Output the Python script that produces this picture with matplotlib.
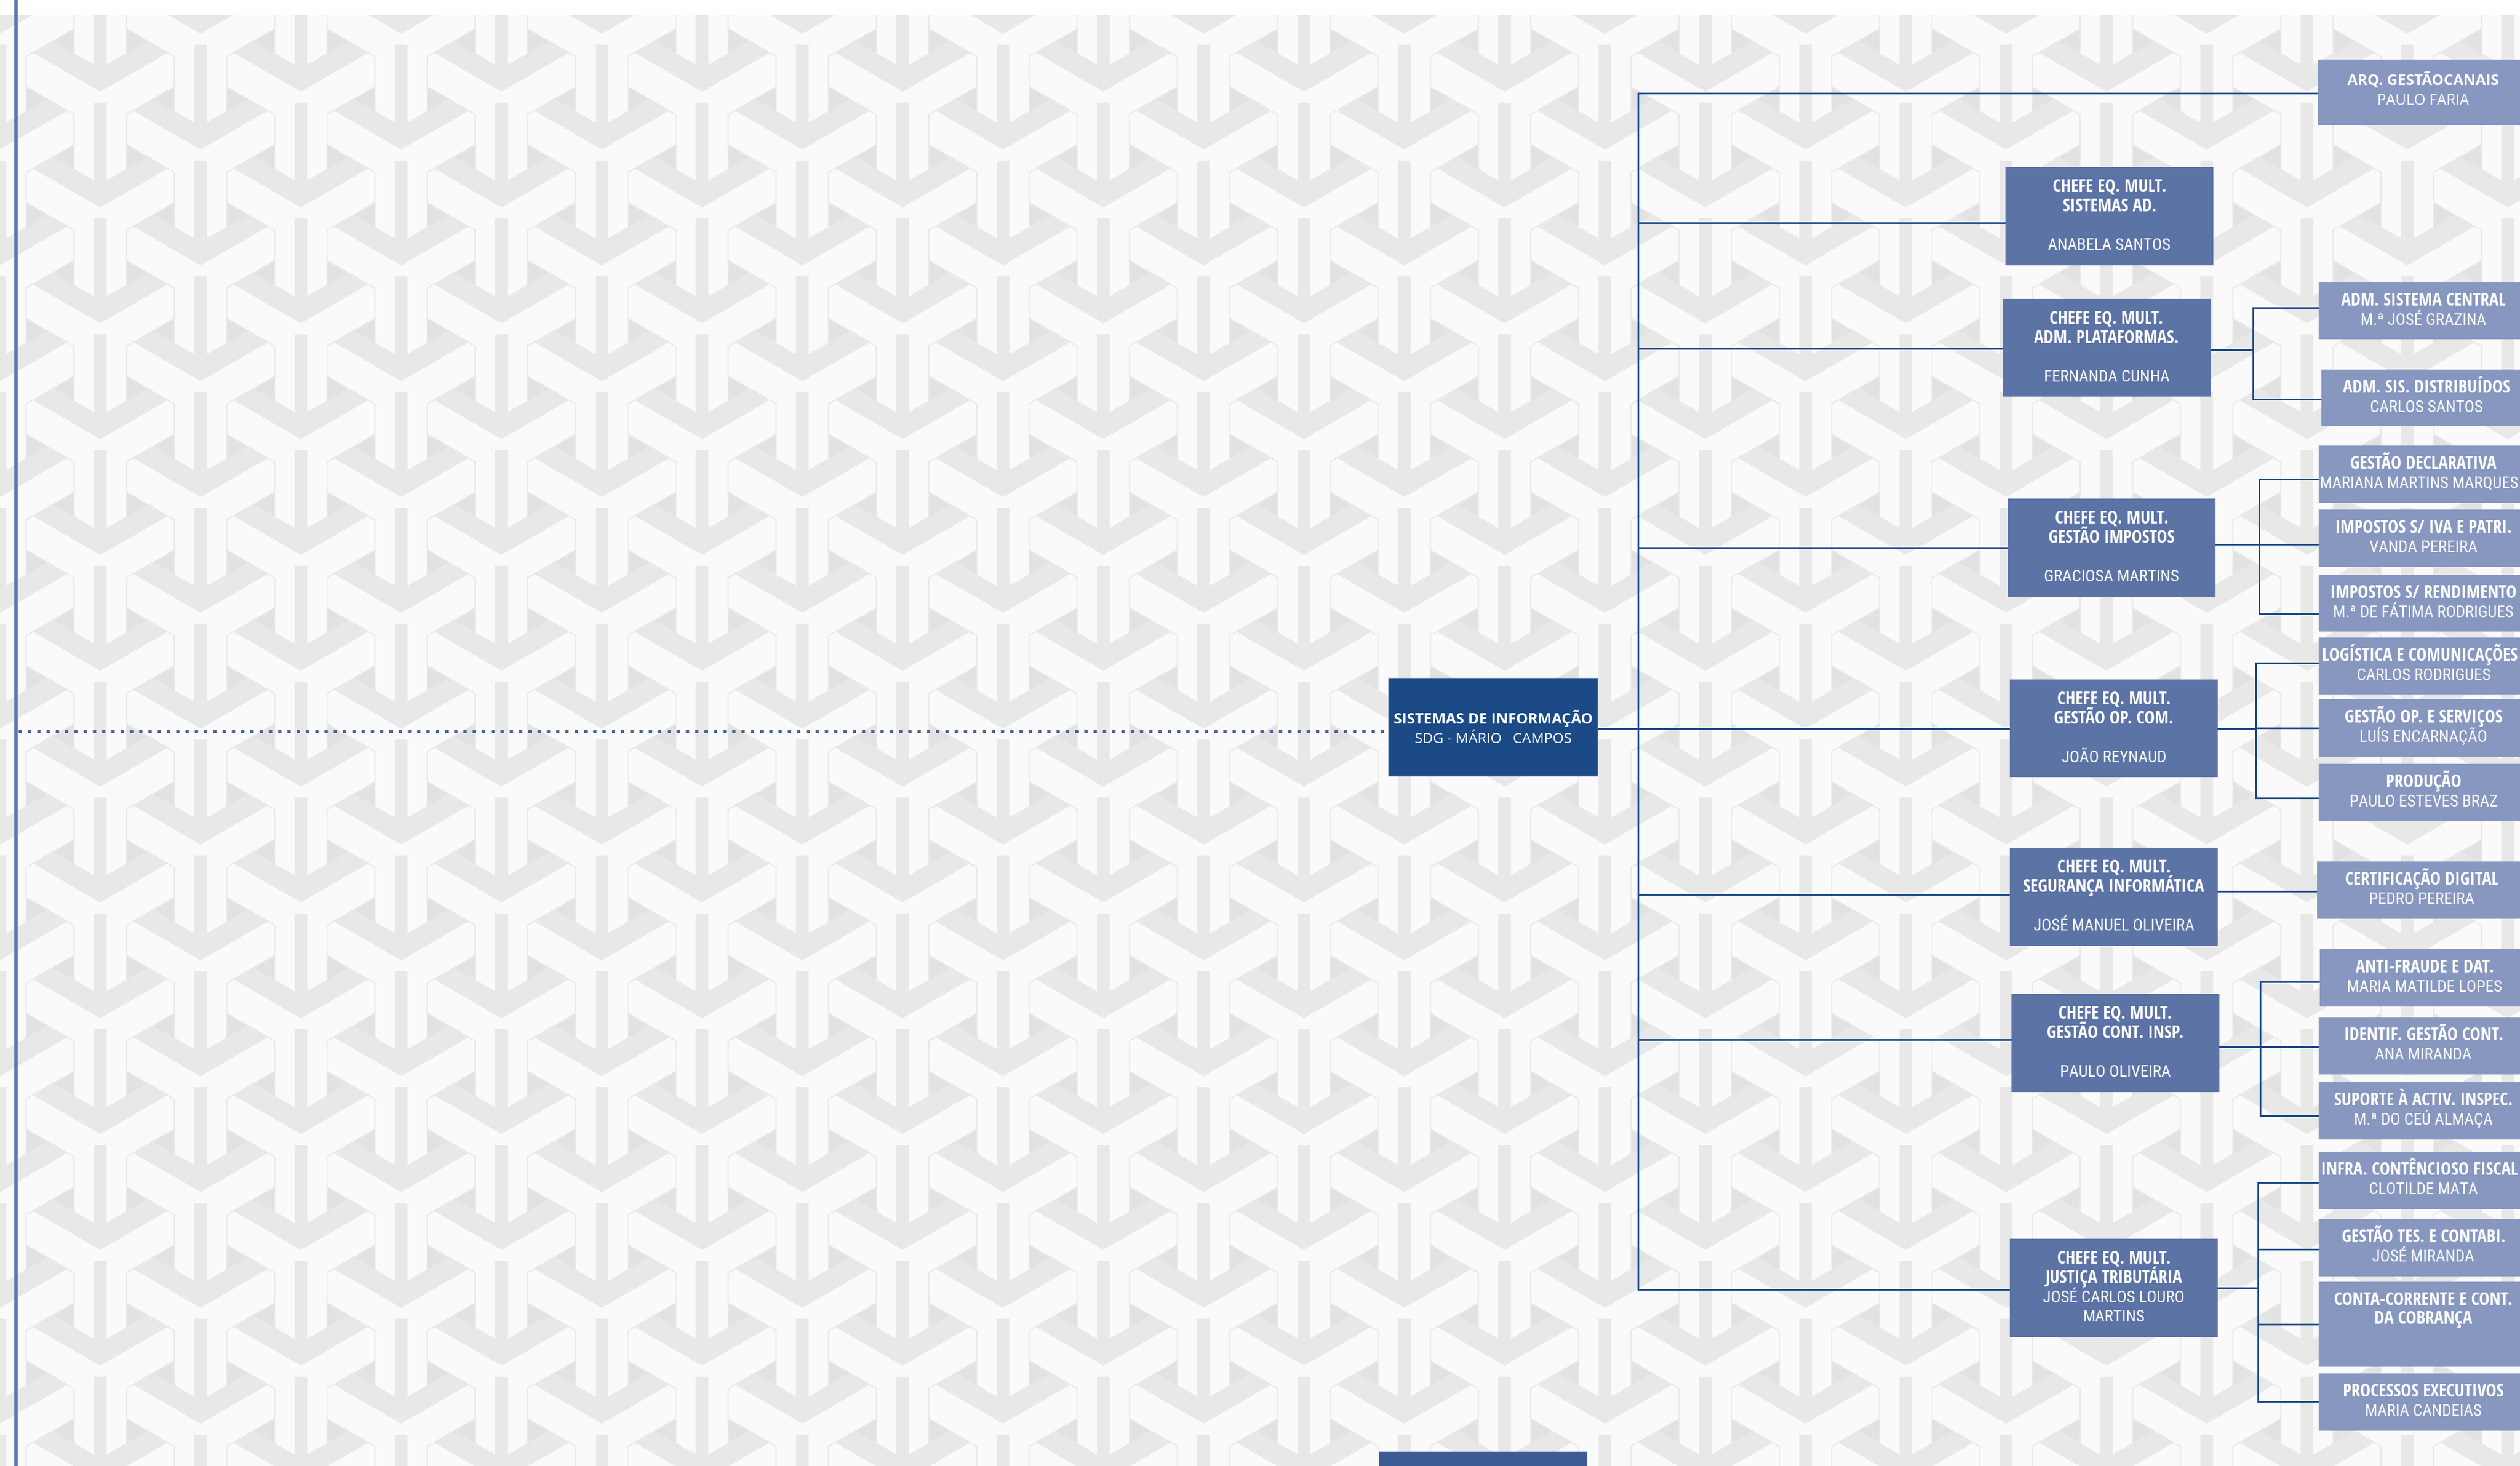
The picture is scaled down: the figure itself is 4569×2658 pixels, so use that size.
import os
import numpy as np
import matplotlib.pyplot as plt
from matplotlib import font_manager as fm
from matplotlib.patches import Rectangle
from matplotlib.collections import PolyCollection

W, H = 4569, 2658
DPI = 300

# ---------------- chart content ----------------
root_title = "SISTEMAS DE INFORMAÇÃO"
root_name = "SDG - MÁRIO   CAMPOS"

chefe_titles = [
    ["CHEFE EQ. MULT.", "SISTEMAS AD."],
    ["CHEFE EQ. MULT.", "ADM. PLATAFORMAS."],
    ["CHEFE EQ. MULT.", "GESTÃO IMPOSTOS"],
    ["CHEFE EQ. MULT.", "GESTÃO OP. COM."],
    ["CHEFE EQ. MULT.", "SEGURANÇA INFORMÁTICA"],
    ["CHEFE EQ. MULT.", "GESTÃO CONT. INSP."],
    ["CHEFE EQ. MULT.", "JUSTIÇA TRIBUTÁRIA"],
]
chefe_names = [
    ["ANABELA SANTOS"],
    ["FERNANDA CUNHA"],
    ["GRACIOSA MARTINS"],
    ["JOÃO REYNAUD"],
    ["JOSÉ MANUEL OLIVEIRA"],
    ["PAULO OLIVEIRA"],
    ["JOSÉ CARLOS LOURO", "MARTINS"],
]

team_titles = [
    ["ARQ. GESTÃOCANAIS"],
    ["ADM. SISTEMA CENTRAL"],
    ["ADM. SIS. DISTRIBUÍDOS"],
    ["GESTÃO DECLARATIVA"],
    ["IMPOSTOS S/ IVA E PATRI."],
    ["IMPOSTOS S/ RENDIMENTO"],
    ["LOGÍSTICA E COMUNICAÇÕES"],
    ["GESTÃO OP. E SERVIÇOS"],
    ["PRODUÇÃO"],
    ["CERTIFICAÇÃO DIGITAL"],
    ["ANTI-FRAUDE E DAT."],
    ["IDENTIF. GESTÃO CONT."],
    ["SUPORTE À ACTIV. INSPEC."],
    ["INFRA. CONTÊNCIOSO FISCAL"],
    ["GESTÃO TES. E CONTABI."],
    ["CONTA-CORRENTE E CONT.", "DA COBRANÇA"],
    ["PROCESSOS EXECUTIVOS"],
]
team_names = [
    "PAULO FARIA", "M.ª JOSÉ GRAZINA", "CARLOS SANTOS", "MARIANA MARTINS MARQUES",
    "VANDA PEREIRA", "M.ª DE FÁTIMA RODRIGUES", "CARLOS RODRIGUES", "LUÍS ENCARNAÇÃO",
    "PAULO ESTEVES BRAZ", "PEDRO PEREIRA", "MARIA MATILDE LOPES", "ANA MIRANDA",
    "M.ª DO CEÚ ALMAÇA", "CLOTILDE MATA", "JOSÉ MIRANDA", "", "MARIA CANDEIAS",
]
# -1 = linked straight to the main trunk
team_parent = [-1, 1, 1, 2, 2, 2, 3, 3, 3, 4, 5, 5, 5, 6, 6, 6, 6]

# ---------------- layout (pixels) ----------------
root_box = (2518, 1230, 2897, 1407)
trunk_x = 2970
root_link_y = 1321

chefe_x0 = [3636, 3631, 3640, 3644, 3644, 3647, 3644]
chefe_y = [(303, 481), (542, 719), (904, 1082), (1232, 1409),
           (1537, 1715), (1802, 1980), (2246, 2424)]
chefe_w = 377
chefe_in_y = [404, 632, 993, 1321, 1622, 1885, 2338]
chefe_out_y = [None, 634, 987, 1321, 1616, 1898, 2335]
sub_x = [None, 4085, 4096, 4090, None, 4098, 4094]

team_x0 = [4203, 4204, 4209, 4204, 4204, 4204, 4204, 4204, 4204,
           4201, 4206, 4204, 4204, 4204, 4204, 4204, 4204]
team_y = [(108, 227), (512, 615), (670, 772), (808, 912), (924, 1028),
          (1042, 1145), (1156, 1259), (1268, 1372), (1385, 1489),
          (1562, 1666), (1721, 1825), (1844, 1948), (1962, 2066),
          (2088, 2192), (2210, 2314), (2324, 2478), (2490, 2594)]
team_w = 380
team_link_y = [169, 558, 724, 869, 987, 1113, 1202, 1320, 1447,
               1616, 1780, 1898, 2023, 2144, 2265, 2401, 2541]

C_ROOT = "#1b4a87"
C_CHEFE = "#5c73a6"
C_TEAM = "#8797c0"
C_LINE = "#1b4a87"


def px2pt(p):
    return p * 72.0 / DPI


# ---------------- fonts ----------------
def wnum(w):
    if isinstance(w, (int, float)):
        return w
    return fm.weight_dict.get(str(w).lower(), 400)


def find_font(bold, condensed):
    order = ["liberation sans narrow", "open sans", "noto sans", "roboto",
             "lato", "dejavu sans", "liberation sans", "inter"]
    best = None
    for f in fm.fontManager.ttflist:
        nm = f.name.lower()
        base = os.path.basename(f.fname).lower()
        if "mono" in nm or "cjk" in nm or "math" in nm or "display" in nm:
            continue
        if "serif" in nm and "sans" not in nm:
            continue
        if f.style != "normal" or "italic" in base or "oblique" in base:
            continue
        st = str(f.stretch).lower() + " " + base + " " + nm
        is_cond = ("condensed" in st) or ("narrow" in st)
        if is_cond != condensed:
            continue
        if "extra" in st or "ultra" in st:
            crank = 2
        elif "semi" in st:
            crank = 1
        else:
            crank = 0
        fam = next((i for i, o in enumerate(order) if nm.startswith(o)), len(order))
        score = (abs(wnum(f.weight) - (700 if bold else 400)), crank, fam)
        if best is None or score < best[0]:
            best = (score, f.fname)
    return best[1] if best else None


def make_fp(bold, condensed):
    path = find_font(bold, condensed)
    if path is None and condensed:
        path = find_font(bold, False)
    if path is None:
        return fm.FontProperties(family="DejaVu Sans",
                                 weight="bold" if bold else "normal")
    return fm.FontProperties(fname=path)


fig = plt.figure(figsize=(W / DPI, H / DPI), dpi=DPI)
ax = fig.add_axes([0, 0, 1, 1])
ax.set_xlim(0, W)
ax.set_ylim(H, 0)
ax.axis("off")
renderer = fig.canvas.get_renderer()


def text_w(s, fp, size):
    t = ax.text(0, 0, s, fontproperties=fp, fontsize=size)
    w = t.get_window_extent(renderer).width
    t.remove()
    return w


def fitted(fp, sample, target_w, cap_px):
    base = px2pt(cap_px / 0.70)
    w = text_w(sample, fp, base)
    return min(base * target_w / w, base * 1.12)


NB, NR = make_fp(True, True), make_fp(False, True)
WB, WR = make_fp(True, False), make_fp(False, False)
SZ_NB = fitted(NB, "CHEFE EQ. MULT.", 216, 20)
SZ_NR = fitted(NR, "ANABELA SANTOS", 222, 20)
SZ_RB = fitted(WB, root_title, 360, 18)
SZ_RR = fitted(WR, root_name, 285, 18)
SZ_AB = fitted(WB, team_titles[0][0], 273, 20)
SZ_AR = fitted(WR, team_names[0], 166, 20)

# ---------------- background weave of Y shapes ----------------
ax.add_patch(Rectangle((0, 0), W, H, color="#e2e2e2", zorder=0))
D = 210.0
h = 47.5
g = 12.0
c30, s30 = np.cos(np.pi / 6), np.sin(np.pi / 6)
t30 = np.tan(np.pi / 6)
tip = D - h / c30
corner = tip - h * t30
d0, n0 = np.array([0.0, 1.0]), np.array([1.0, 0.0])
d1, n1 = np.array([-c30, -s30]), np.array([s30, -c30])
d2, n2 = np.array([c30, -s30]), np.array([-s30, -c30])

y_outline = np.array([
    (h, h * t30), (h, corner), (0, tip), (-h, corner), (-h, h * t30),
    tuple(-h * n1 + corner * d1), tuple(tip * d1), tuple(h * n1 + corner * d1),
    (0, -h / c30),
    tuple(h * n2 + corner * d2), tuple(tip * d2), tuple(-h * n2 + corner * d2),
])

light, grey = [], []
for i in range(-9, 22):
    for j in range(-8, 8):
        cx = 1273 + i * D * c30
        cy = 1650 + j * D + (105 if i % 2 else 0)
        if cx < -250 or cx > W + 250 or cy < -250 or cy > H + 250:
            continue
        C = np.array([cx, cy])
        light.append(C + y_outline)
        w2 = 11.5
        pts = [(-w2, 6), (-w2, tip - w2 * t30), (0, tip), (w2, tip - w2 * t30), (w2, 6)]
        grey.append([C + s * n0 + t * d0 for s, t in pts])
        for d, n in ((d1, n1), (d2, n2)):
            grey.append([C + np.array([0, -h / c30]),
                         C + h * n + corner * d,
                         C + g * n + (tip - g * t30) * d,
                         C + np.array([0, -g / c30])])
ax.add_collection(PolyCollection(light, facecolors="#fafafa", edgecolors="#e9e9e9",
                                 linewidths=px2pt(2), zorder=1))
ax.add_collection(PolyCollection(grey, facecolors="#e8e8e8", edgecolors="none", zorder=1))
ax.add_patch(Rectangle((0, 0), W, 25, color="white", zorder=2))

# ---------------- left rule and dotted link ----------------
ax.plot([29, 29], [0, H], color="#5a70a8", lw=px2pt(6), zorder=3, solid_capstyle="butt")
ax.plot([34, 2512], [1326, 1326], color="#4a62a3", lw=px2pt(6),
        linestyle=(0, (1, 1.8)), zorder=3)


# ---------------- connectors ----------------
def seg(x0, y0, x1, y1):
    ax.plot([x0, x1], [y0, y1], color=C_LINE, lw=px2pt(3), zorder=4,
            solid_capstyle="projecting")


seg(root_box[2], root_link_y, trunk_x, root_link_y)
seg(trunk_x, team_link_y[0], trunk_x, chefe_in_y[-1])
seg(trunk_x, team_link_y[0], team_x0[0], team_link_y[0])
for k in range(len(chefe_titles)):
    seg(trunk_x, chefe_in_y[k], chefe_x0[k], chefe_in_y[k])
    if chefe_out_y[k] is None:
        continue
    kids = [m for m, p in enumerate(team_parent) if p == k]
    if sub_x[k] is None:
        seg(chefe_x0[k] + chefe_w, chefe_out_y[k], team_x0[kids[0]], chefe_out_y[k])
        continue
    seg(chefe_x0[k] + chefe_w, chefe_out_y[k], sub_x[k], chefe_out_y[k])
    ys = [team_link_y[m] for m in kids]
    seg(sub_x[k], min(ys), sub_x[k], max(ys))
    for m in kids:
        seg(sub_x[k], team_link_y[m], team_x0[m], team_link_y[m])


# ---------------- boxes ----------------
def line(x, yc, s, fp, size, cap_px, xmin=None):
    if xmin is not None:
        w = text_w(s, fp, size)
        room = (W - 4) - xmin
        if w > room:
            size = size * room / w
            w = room
        x = min(x, W - 4 - w / 2)
    ax.text(x, yc + cap_px / 2, s, ha="center", va="baseline", color="white",
            fontproperties=fp, fontsize=size, zorder=6)


x0, y0, x1, y1 = root_box
ax.add_patch(Rectangle((x0, y0), x1 - x0, y1 - y0, facecolor=C_ROOT,
                       edgecolor="#4d6c9e", lw=px2pt(1.5), zorder=5))
line((x0 + x1) / 2, 1303, root_title, WB, SZ_RB, 18)
line((x0 + x1) / 2, 1338, root_name, WR, SZ_RR, 18)

for k in range(len(chefe_titles)):
    top, bot = chefe_y[k]
    ax.add_patch(Rectangle((chefe_x0[k], top), chefe_w, bot - top,
                           facecolor=C_CHEFE, edgecolor="none", zorder=5))
    xc = chefe_x0[k] + chefe_w / 2
    for r, s in enumerate(chefe_titles[k]):
        line(xc, top + 35 + 35 * r, s, NB, SZ_NB, 20)
    nm = chefe_names[k]
    start = top + 140 - 35 * (len(nm) - 1)
    for r, s in enumerate(nm):
        line(xc, start + 35 * r, s, NR, SZ_NR, 20)

for m in range(len(team_titles)):
    top, bot = team_y[m]
    ax.add_patch(Rectangle((team_x0[m], top), team_w, bot - top,
                           facecolor=C_TEAM, edgecolor="none", zorder=5))
    xc = team_x0[m] + team_w / 2
    lim = team_x0[m] + 2
    if m == 0:
        line(xc, top + 35, team_titles[m][0], WB, SZ_AB, 20, lim)
        line(xc, top + 72, team_names[m], WR, SZ_AR, 20, lim)
        continue
    for r, s in enumerate(team_titles[m]):
        line(xc, top + 32 + 34 * r, s, NB, SZ_NB, 20, lim)
    if team_names[m]:
        line(xc, top + 67, team_names[m], NR, SZ_NR, 20, lim)

# box at the bottom edge, cut by the page
ax.add_patch(Rectangle((2500, 2632), 378, 60, facecolor="#3c5b93",
                       edgecolor="none", zorder=5))

fig.savefig("out.png", dpi=DPI)
